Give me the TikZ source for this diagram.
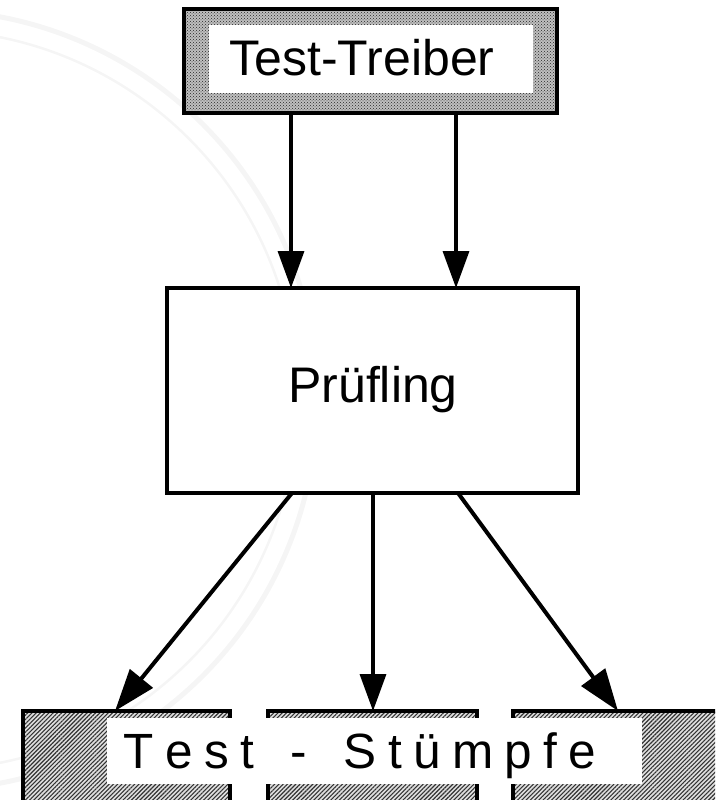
\documentclass[tikz,border=0pt]{standalone}
\usepackage{fontspec}
\setmainfont{Liberation Sans}
\usetikzlibrary{arrows.meta,patterns,patterns.meta}
\newcommand\lsp{\kern11.4pt}
\tikzset{
  boxframe/.style={draw=black, rectangle, inner sep=0pt, outer sep=0pt, line width=3.5pt},
  drvbox/.style={boxframe, line width=4pt, preaction={fill=gray!50}, pattern=crosshatch dots, pattern color=black!85},
  stubbox/.style={boxframe, preaction={fill=gray!25}, pattern={Lines[angle=45,distance=3pt,line width=1.1pt]}, pattern color=black!80},
  whitebox/.style={rectangle, fill=white, draw=none, inner sep=0pt, outer sep=0pt},
  lbl/.style={inner sep=0pt, outer sep=0pt, anchor=base, font=\fontsize{49.5}{55}\selectfont},
  arr/.style={line width=3.5pt, -{Triangle[length=37pt,width=26pt]}},
  darr/.style={line width=4pt, -{Triangle[length=42pt,width=29pt]}},
  sealline/.style={draw=black!4, line width=5pt}
}
\begin{document}
\begin{tikzpicture}[x=1pt,y=-1pt]
\useasboundingbox (0,0) rectangle (715,800);
\clip (0,0) rectangle (715,800);
% faint watermark seal
\draw[sealline] (-73,400) circle[radius=390pt];
\draw[sealline, line width=2.5pt] (-73,400) circle[radius=370pt];

% Test-Treiber
\node[drvbox, minimum width=373pt, minimum height=104pt] (tt) at (370.5,61) {};
\node[whitebox, minimum width=324pt, minimum height=68pt] (ti) at (371,59) {};
\node[lbl, font=\fontsize{50}{56}\selectfont] (ttx) at (362,75) {Test-Treiber};

% Pruefling
\node[boxframe, fill=white, minimum width=411pt, minimum height=205pt] (pr) at (372.5,390.5) {};
\node[lbl, font=\fontsize{50}{56}\selectfont] (prx) at (373,402) {Prüfling};

% Test-Stuempfe
\node[stubbox, minimum width=207pt, minimum height=119pt] (s1) at (126.5,770.5) {};
\node[stubbox, minimum width=209pt, minimum height=119pt] (s2) at (372.5,770.5) {};
\node[stubbox, minimum width=227pt, minimum height=119pt] (s3) at (626.5,770.5) {};
\node[whitebox, minimum width=535pt, minimum height=66pt] (lb) at (374.5,751) {};
\node[lbl] (lbx) at (360,768) {T\lsp e\lsp s\lsp t\lsp\ \lsp-\lsp\ \lsp S\lsp t\lsp ü\lsp m\lsp p\lsp f\lsp e};

% connector guides
\coordinate (a1) at (291,0);
\coordinate (a2) at (456,0);
\coordinate (b1) at (292,0);
\coordinate (b2) at (373,0);
\coordinate (b3) at (458,0);
\coordinate (t1) at (115,0);
\coordinate (t3) at (618,0);

\draw[arr] (tt.south -| a1) -- (pr.north -| a1);
\draw[arr] (tt.south -| a2) -- (pr.north -| a2);
\draw[darr] (pr.south -| b1) -- (s1.north -| t1);
\draw[arr] (pr.south -| b2) -- (s2.north -| b2);
\draw[darr] (pr.south -| b3) -- (s3.north -| t3);
\end{tikzpicture}
\end{document}
